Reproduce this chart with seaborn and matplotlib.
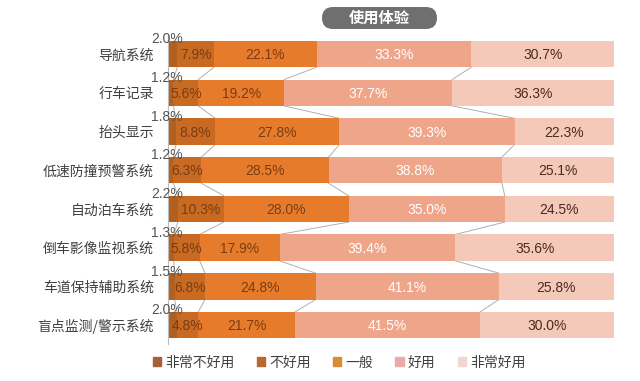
import numpy as np
import pandas as pd
import seaborn as sns
import matplotlib.pyplot as plt
from matplotlib.patches import FancyBboxPatch

# Survey data: share of ratings per feature (%), as printed on the chart
features = ['导航系统', '行车记录', '抬头显示', '低速防撞预警系统',
            '自动泊车系统', '倒车影像监视系统', '车道保持辅助系统', '盲点监测/警示系统']
ratings = ['非常不好用', '不好用', '一般', '好用', '非常好用']
very_bad = [2.0, 1.2, 1.8, 1.2, 2.2, 1.3, 1.5, 2.0]
bad = [7.9, 5.6, 8.8, 6.3, 10.3, 5.8, 6.8, 4.8]
neutral = [22.1, 19.2, 27.8, 28.5, 28.0, 17.9, 24.8, 21.7]
good = [33.3, 37.7, 39.3, 38.8, 35.0, 39.4, 41.1, 41.5]
very_good = [30.7, 36.3, 22.3, 25.1, 24.5, 35.6, 25.8, 30.0]

colors = ['#B2601F', '#C96A22', '#E77B2C', '#EEA58A', '#F5C9B9']
legend_colors = ['#A5603A', '#B8692F', '#DB8A38', '#E9AAAA', '#F2D6D4']
text_colors = ['#555555', '#7A3C12', '#7A3C12', '#FFFFFF', '#4A2A22']

values = np.array([very_bad, bad, neutral, good, very_good])
shares = values / values.sum(axis=0) * 100
cum = np.cumsum(shares, axis=0)

plt.rcParams['font.family'] = ['Noto Sans CJK SC', 'DejaVu Sans']
fig = plt.figure(figsize=(6.4, 3.81), dpi=100)
ax = fig.add_axes([0.2625, 0.096, 0.6969, 0.813])

# stacked bars: draw cumulative totals from the right so shorter ones overlay
for i in range(len(ratings) - 1, -1, -1):
    df = pd.DataFrame({'feature': features, 'value': cum[i]})
    sns.barplot(data=df, x='value', y='feature', orient='h', color=colors[i],
                width=0.68, saturation=1, ax=ax, zorder=2)

# series lines between neighbouring bars
half = 0.34
for i in range(len(ratings)):
    for j in range(len(features) - 1):
        ax.plot([cum[i][j], cum[i][j + 1]], [j + half, j + 1 - half],
                color='#AFAFAF', lw=0.7, zorder=1)

# value labels
pct_font = ['Liberation Sans', 'DejaVu Sans']
for j in range(len(features)):
    ax.text(-0.2, j - half - 0.04, f'{values[0][j]:.1f}%',
            ha='center', va='center', fontsize=10, color=text_colors[0],
            family=pct_font, zorder=4)
    for i in range(1, len(ratings)):
        center = cum[i][j] - shares[i][j] / 2
        ax.text(center, j + 0.03, f'{values[i][j]:.1f}%', ha='center', va='center',
                fontsize=10, color=text_colors[i], family=pct_font, zorder=4)

ax.set_xlim(0, 100)
ax.set_ylim(len(features) - 0.5, -0.5)
ax.set_xlabel('')
ax.set_ylabel('')
ax.set_xticks([])
ax.tick_params(axis='y', length=0, pad=10, labelsize=10, labelcolor='#404040')
for side in ['top', 'right', 'bottom']:
    ax.spines[side].set_visible(False)
ax.spines['left'].set_color('#BBBBBB')
ax.spines['left'].set_linewidth(0.8)

# legend
handles = [plt.Rectangle((0, 0), 1, 1, color=c) for c in legend_colors]
fig.legend(handles, ratings, loc='center', bbox_to_anchor=(0.53, 0.048), ncol=5,
           frameon=False, fontsize=10, handlelength=0.6, handleheight=0.6,
           handletextpad=0.3, columnspacing=1.6, labelcolor='#404040')

# title pill (in inches)
pill = FancyBboxPatch((3.22, 3.52), 1.15, 0.22, transform=fig.dpi_scale_trans,
                      boxstyle='round,pad=0,rounding_size=0.11',
                      facecolor='#6F6F6F', edgecolor='none')
fig.patches.append(pill)
fig.text(3.795 / 6.4, 3.63 / 3.81, '使用体验', ha='center', va='center',
         fontsize=11, color='white', fontweight='bold')

fig.savefig('out.png', dpi=100, facecolor='white')
